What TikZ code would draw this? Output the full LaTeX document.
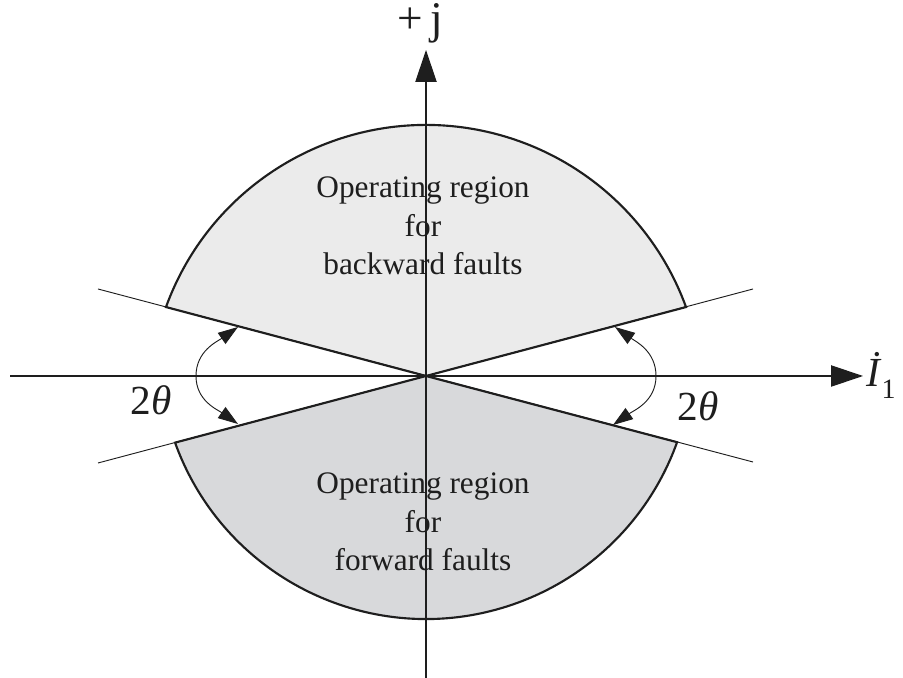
\documentclass[tikz,border=0pt]{standalone}
\usepackage{fontspec}
\setmainfont{Liberation Serif}
\usetikzlibrary{arrows.meta}
\definecolor{upfill}{RGB}{235,235,235}
\definecolor{lowfill}{RGB}{216,217,219}
\definecolor{ink}{RGB}{30,30,30}
\tikzset{
  sectorline/.style={draw=ink, line width=1.6pt, line join=miter},
  thinline/.style={draw=ink, line width=0.7pt},
  axisline/.style={draw=ink, line width=0.9pt, -{Triangle[length=24pt,width=16pt]}},
  anglearrow/.style={draw=ink, line width=0.7pt, {Triangle[length=15pt,width=10pt]}-{Triangle[length=15pt,width=10pt]}},
  regiontext/.style={anchor=base, font=\fontsize{23.5pt}{28pt}\selectfont, text=ink, inner sep=0pt},
  bigtext/.style={anchor=base, font=\fontsize{31pt}{36pt}\selectfont, text=ink, inner sep=0pt}
}
\begin{document}
\begin{tikzpicture}[x=0.75pt,y=0.75pt]
\useasboundingbox (0,0) rectangle (903,678);
% key points
\coordinate (O) at (426,302);
\coordinate (cU) at (426,276.3);
\coordinate (cL) at (426,325.7);
\path (cU) ++(160:276.7) coordinate (A);
\path (cU) ++(20:276.7) coordinate (B);
\path (cL) ++(199.8:266.7) coordinate (C);
\path (cL) ++(340.3:266.7) coordinate (D);
% sectors
\fill[upfill] (O) -- (A) arc[start angle=160, end angle=20, radius=276.7] -- cycle;
\fill[lowfill] (O) -- (C) arc[start angle=199.8, end angle=340.3, radius=266.7] -- cycle;
% thin boundary lines
\coordinate (L1a) at (98,389);
\coordinate (L1b) at (753,216);
\coordinate (L2a) at (98,215);
\coordinate (L2b) at (753,389);
\draw[thinline] (L1a) -- (L1b);
\draw[thinline] (L2a) -- (L2b);
% sector outlines
\draw[sectorline] (O) -- (A) arc[start angle=160, end angle=20, radius=276.7] -- cycle;
\draw[sectorline] (O) -- (C) arc[start angle=199.8, end angle=340.3, radius=266.7] -- cycle;
% region texts
\node[regiontext] (u1) at (423,480) {Operating region};
\node[regiontext] (u2) at (423,441) {for};
\node[regiontext] (u3) at (423,403) {backward faults};
\node[regiontext] (l1) at (423,184) {Operating region};
\node[regiontext] (l2) at (423,145) {for};
\node[regiontext] (l3) at (423,107) {forward faults};
% axes
\coordinate (xs) at (10,302);
\coordinate (xe) at (863,302);
\coordinate (ys) at (426,0);
\coordinate (ye) at (426,628);
\draw[axisline] (xs) -- (xe);
\draw[axisline] (ys) -- (ye);
\node[bigtext, font=\fontsize{34pt}{38pt}\selectfont] (jlab) at (420,644) {+\,j};
\node[bigtext, anchor=base west, font=\fontsize{31pt}{34pt}\selectfont] (ilab) at (866,291) {\textit{İ}\raisebox{-0.28em}{\fontsize{21pt}{23pt}\selectfont 1}};
% angle arrows
\coordinate (P1) at (238,351);
\coordinate (ML) at (196,302);
\coordinate (P2) at (238,254);
\coordinate (P3) at (615,351);
\coordinate (MR) at (656,302);
\coordinate (P4) at (613,253);
\draw[anglearrow] (P1) to[out=215, in=90] (ML) to[out=270, in=145] (P2);
\draw[anglearrow] (P3) to[out=-35, in=90] (MR) to[out=270, in=35] (P4);
\node[bigtext] (tl) at (151,263) {2\textit{θ}};
\node[bigtext] (tr) at (698,257) {2\textit{θ}};
\end{tikzpicture}
\end{document}
